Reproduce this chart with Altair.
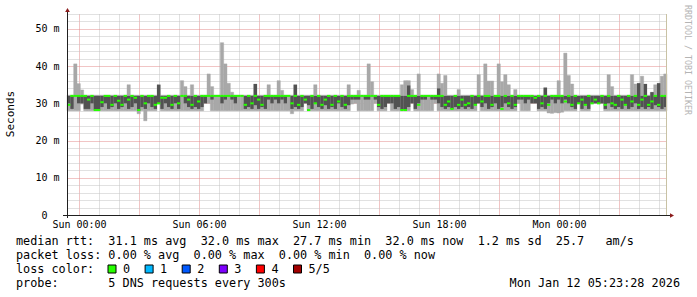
import altair as alt
import pandas as pd

MONO = "DejaVu Sans Mono"

# ---- data (10-minute steps, 180 steps = 30 hours) ----
hi = [
    32.2, 32.2, 40.6, 35.3, 33.6, 32.2, 32.2, 32.2, 32.2, 32.2, 32.2, 32.2, 32.2, 32.2, 32.2, 32.2, 32.2, 32.2, 35.0, 32.2,
    32.2, 32.2, 32.2, 32.2, 32.2, 32.2, 32.2, 35.0, 32.2, 32.2, 32.2, 32.2, 32.2, 32.2, 36.1, 34.5, 32.2, 35.0, 32.2, 32.2,
    32.2, 32.2, 37.9, 34.5, 32.2, 32.2, 46.3, 40.6, 35.4, 33.0, 32.2, 32.2, 32.2, 32.2, 32.2, 32.2, 35.2, 32.2, 32.2, 32.2,
    35.0, 32.2, 32.2, 36.1, 33.5, 32.2, 32.2, 32.2, 35.0, 32.2, 32.2, 32.2, 32.2, 32.2, 35.0, 32.2, 32.2, 32.2, 32.2, 32.2,
    32.2, 32.2, 32.2, 32.2, 35.0, 32.2, 32.2, 33.5, 32.2, 32.2, 40.6, 35.8, 32.2, 32.2, 32.2, 32.2, 32.2, 32.2, 32.2, 32.2,
    35.0, 36.1, 36.1, 33.7, 32.2, 37.9, 32.2, 32.2, 32.2, 32.2, 32.2, 37.9, 35.4, 37.5, 32.2, 32.2, 32.2, 33.7, 32.2, 32.2,
    32.2, 32.2, 32.2, 37.7, 32.2, 40.6, 36.0, 36.0, 32.2, 40.6, 35.8, 37.7, 35.0, 32.2, 33.7, 32.2, 32.2, 32.2, 32.2, 32.2,
    32.2, 32.2, 32.2, 34.2, 32.2, 32.2, 32.2, 36.1, 32.2, 43.5, 37.5, 35.2, 32.2, 32.2, 32.2, 32.2, 32.2, 32.2, 32.2, 32.2,
    32.2, 32.2, 37.7, 34.5, 32.2, 32.2, 32.2, 32.2, 32.2, 37.7, 35.2, 35.4, 37.3, 35.2, 32.2, 33.0, 35.0, 35.4, 37.3, 37.9,
]
lo = [
    28.0, 28.0, 28.0, 28.0, 29.8, 28.0, 28.0, 28.0, 28.0, 28.0, 28.0, 28.0, 28.0, 28.0, 28.0, 28.0, 28.0, 28.0, 28.0, 28.0,
    28.0, 27.2, 28.0, 25.3, 28.0, 28.0, 28.0, 29.8, 28.0, 28.0, 28.0, 28.0, 28.0, 28.0, 28.0, 28.0, 28.0, 28.0, 28.0, 28.0,
    28.0, 30.0, 30.0, 28.0, 28.0, 28.0, 28.0, 28.0, 28.0, 28.0, 28.0, 28.0, 28.0, 28.0, 28.0, 28.0, 28.0, 28.0, 28.0, 28.0,
    28.0, 28.0, 28.0, 28.0, 28.0, 28.0, 28.0, 27.2, 28.0, 28.0, 28.0, 30.0, 28.0, 28.0, 28.0, 28.0, 28.0, 28.0, 28.0, 28.0,
    28.0, 28.0, 28.0, 28.0, 28.0, 29.8, 30.0, 28.0, 28.0, 28.0, 28.0, 28.0, 30.0, 28.0, 28.0, 28.0, 30.0, 28.0, 28.0, 28.0,
    28.0, 28.0, 28.0, 30.0, 28.0, 28.0, 28.0, 28.0, 28.0, 28.0, 30.0, 28.0, 28.0, 28.0, 28.0, 28.0, 28.0, 28.0, 28.0, 28.0,
    28.0, 28.0, 28.0, 30.0, 28.0, 28.0, 28.0, 28.0, 28.0, 28.0, 28.0, 28.0, 28.0, 28.0, 28.0, 30.0, 28.0, 28.0, 28.0, 30.0,
    30.0, 28.0, 28.0, 28.0, 27.4, 27.3, 27.5, 27.4, 27.6, 28.0, 28.0, 28.0, 28.0, 30.0, 28.0, 28.0, 28.0, 30.0, 30.0, 30.0,
    30.0, 28.0, 28.0, 28.0, 28.0, 28.0, 28.0, 28.0, 28.0, 28.0, 28.0, 28.0, 28.0, 28.0, 28.0, 28.0, 28.0, 28.0, 28.0, 28.0,
]
dark_lo = [
    30, 28.5, 32, 30, 30, 28.5, 28.5, 30, 28.3, 28.3, 29, 30, 28.5, 29, 30, 28.5, 29, 30, 28.5, 29,
    30, 28, 29, 28.5, 30, 29, 28.5, 30, 28.5, 30, 29, 28.5, 30, 28.5, 32, 30, 29, 28.5, 29, 28.5,
    29, 30, 32, 31, 32, 32, 30, 31, 32, 31, 30, 32, 32, 28.5, 29, 28.5, 29.5, 28.5, 29, 28.5,
    31, 30, 31, 30, 31, 30, 32, 28.5, 29, 28.5, 29, 30, 29.5, 28.5, 30, 29, 28.5, 29.5, 28.5, 29,
    28.5, 30, 29, 28.5, 29.5, 31, 31, 31, 32, 31, 31, 32, 31, 29, 28.5, 29, 30, 30, 28.5, 29,
    28.3, 28.3, 29, 30, 28.5, 30, 31, 31, 32, 31, 31, 30, 29, 28.5, 29, 28.5, 29, 28.5, 29, 28.5,
    29, 28.5, 29.5, 30, 29, 30, 28.5, 29, 30, 28.5, 29, 30, 29, 28.5, 29, 31, 31, 30, 31, 30,
    30, 28.5, 29, 28.5, 30, 31, 30, 31, 30, 31, 30, 29, 28.5, 30, 28.5, 29.5, 28.5, 30, 30, 30,
    30, 28.5, 30, 29, 28.5, 29, 28.5, 29.5, 28.5, 29, 30, 28.5, 29, 28.5, 29, 28.5, 29.5, 29, 28.5, 29,
]
dark_hi = [
    32, 32, 32, 32, 32, 32, 32, 32, 32, 32, 32, 32, 32, 32, 32, 32, 32, 32, 32, 32,
    32, 32, 32, 32, 32, 32, 32, 35.0, 32, 32, 32, 32, 32, 32, 32, 32, 32, 32, 32, 32,
    32, 32, 32, 32, 32, 32, 32, 32, 32, 32, 32, 32, 32, 32, 32, 32, 35.2, 32, 32, 32,
    32, 32, 32, 32, 32, 32, 32, 32, 35.0, 32, 32, 32, 32, 32, 32, 32, 32, 32, 32, 32,
    32, 32, 32, 32, 32, 32, 32, 32, 32, 32, 32, 32, 32, 32, 32, 32, 32, 32, 32, 32,
    32, 32, 34.8, 32, 32, 32, 32, 32, 32, 32, 32, 34.0, 32, 32, 32, 32, 32, 32, 32, 32,
    32, 32, 32, 32, 32, 32, 32, 32, 32, 32, 32, 32, 32, 32, 32, 32, 32, 32, 32, 32,
    32, 32, 32, 34.2, 32, 32, 32, 32, 32, 32, 32, 32, 32, 32, 32, 32, 32, 32, 32, 32,
    32, 32, 32, 32, 32, 32, 32, 32, 32, 32, 32, 35.4, 32, 35.2, 32, 33.0, 32, 35.4, 32, 32,
]
median = [
    29.6, 32, 32, 32, 32, 32, 31, 32, 28.2, 28.2, 30.3, 32, 32, 29.6, 32, 30.7, 29.6, 32, 31, 32,
    31.5, 28.2, 32, 30, 32, 32, 29.6, 30, 31.5, 31.5, 32, 29.6, 32, 30, 32, 32, 31, 29.6, 32, 30.5,
    32, 32, 32, 32, 32, 32, 32, 32, 32, 32, 32, 32, 32, 29.6, 32, 30, 32, 31, 29.6, 32,
    32, 32, 32, 32, 32, 32, 32, 30, 32, 29.6, 32, 31, 28.2, 32, 30, 32, 29.6, 31, 32, 29.6,
    32, 30.5, 32, 29.6, 32, 32, 32, 32, 32, 32, 32, 32, 32, 29.6, 32, 32, 32, 32, 32, 32,
    28.2, 28.2, 32, 32, 32, 29.6, 32, 32, 32, 32, 32, 32, 32, 29.6, 30.5, 28.5, 32, 29.6, 31, 29.6,
    30, 32, 29.6, 32, 30.5, 32, 32, 29.6, 32, 32, 28.5, 32, 30, 32, 29.6, 32, 32, 32, 32, 32,
    31.5, 32, 30, 32, 29.6, 32, 32, 32, 32, 30.5, 32, 29.6, 32, 30, 31, 29.6, 32, 30, 31, 30,
    32, 29.6, 32, 30, 29.6, 32, 31, 29.6, 32, 30.5, 32, 29.6, 31, 32, 29.6, 30.5, 32, 29.6, 32, 32,
]

loss_labels = ["0", "1", "2", "3", "4", "5/5"]
loss_colors = ["#26ff00", "#00b8ff", "#0059ff", "#7e00ff", "#ff0000", "#a10000"]

stats_line = "median rtt:  31.1 ms avg  32.0 ms max  27.7 ms min  32.0 ms now  1.2 ms sd  25.7   am/s"
loss_line = "packet loss: 0.00 % avg  0.00 % max  0.00 % min  0.00 % now"
color_line = "loss color:"
probe_line = "probe:       5 DNS requests every 300s"
stamp = "Mon Jan 12 05:23:28 2026"
watermark = "RRDTOOL / TOBI OETIKER"
y_title = "Seconds"

# ---- table ----
start = pd.Timestamp("2026-01-10 23:24:00", tz="UTC")
step = pd.Timedelta(minutes=10)
n = len(median)


def iso(ts):
    return ts.strftime("%Y-%m-%dT%H:%M:%SZ")


def ms(ts):
    return int(ts.timestamp() * 1000)


df = pd.DataFrame({
    "t": [iso(start + k * step) for k in range(n)],
    "t2": [iso(start + (k + 1) * step) for k in range(n)],
    "lo": lo, "hi": hi, "dlo": dark_lo, "dhi": dark_hi, "med": median,
})
end = start + n * step
first_hour = start.ceil("h")
hour_ticks = []
h = first_hour
while h <= end:
    hour_ticks.append(ms(h))
    h = h + pd.Timedelta(hours=1)

NB = "\u00a0"


def nb(s):
    return s.replace(" ", NB)


xs = alt.Scale(type="utc", domain=[ms(start), ms(end)], nice=False)
ys = alt.Scale(domain=[0, 54], nice=False)

x_axis = alt.Axis(
    values=hour_ticks, title=None, domain=False, ticks=False,
    grid=True, gridDash=[1, 1], gridWidth=1,
    gridColor=alt.condition("utchours(datum.value) % 3 === 0", alt.value("#e28a8a"), alt.value("#c2c2c2")),
    labelExpr="utchours(datum.value) % 6 === 0 ? utcFormat(datum.value, '%a %H:%M') : ''",
    labelFont=MONO, labelFontSize=10, labelColor="#000000", labelPadding=12,
    labelBaseline="alphabetic", labelOverlap=False, labelFlush=False,
)
y_axis = alt.Axis(
    values=list(range(0, 55, 2)), title=None, domain=False, ticks=False,
    grid=True, gridDash=[1, 1], gridWidth=1,
    gridColor=alt.condition("datum.value % 10 === 0", alt.value("#e28a8a"), alt.value("#c2c2c2")),
    labelExpr="datum.value % 10 === 0 ? (datum.value === 0 ? '0' : datum.value + ' m') : ''",
    labelFont=MONO, labelFontSize=10, labelColor="#000000",
    labelPadding=alt.condition("datum.value === 0", alt.value(20), alt.value(8)),
    labelBaseline="middle", labelOverlap=False, labelFlush=False,
)

base = alt.Chart(df)
X = alt.X("t:T", scale=xs, axis=x_axis)

light = base.mark_rect(color="#a8a8a8", stroke="#a8a8a8", strokeWidth=0.4).encode(
    x=X, x2="t2:T", y=alt.Y("lo:Q", scale=ys, axis=y_axis), y2="hi:Q")
dark = base.transform_filter("datum.dhi > datum.dlo").mark_rect(color="#525252").encode(
    x=X, x2="t2:T", y=alt.Y("dlo:Q", scale=ys, axis=y_axis), y2="dhi:Q")
med = base.mark_rule(color="#26ff00", strokeWidth=2).encode(
    x=X, x2="t2:T", y=alt.Y("med:Q", scale=ys, axis=y_axis))

one = pd.DataFrame({"k": [0]})


def txt(s, x, y, align="left", size=11.8, color="#000000", angle=0, baseline="alphabetic"):
    return alt.Chart(one).mark_text(
        text=nb(s), align=align, baseline=baseline, font=MONO, fontSize=size,
        color=color, angle=angle).encode(x=alt.value(x), y=alt.value(y))


deco = [
    alt.Chart(one).mark_rule(color="#c9c2a4", strokeWidth=1).encode(
        x=alt.value(599.5), y=alt.value(0), y2=alt.value(201)),
    alt.Chart(one).mark_rule(color="#202020", strokeWidth=1).encode(
        x=alt.value(-4), x2=alt.value(604), y=alt.value(201.5)),
    alt.Chart(one).mark_rule(color="#202020", strokeWidth=1).encode(
        x=alt.value(0.5), y=alt.value(-3), y2=alt.value(204)),
    alt.Chart(one).mark_point(shape="triangle-up", filled=True, size=22, color="#8b1c1c", opacity=1).encode(
        x=alt.value(0.5), y=alt.value(-4)),
    alt.Chart(one).mark_point(shape="triangle-right", filled=True, size=22, color="#8b1c1c", opacity=1).encode(
        x=alt.value(605), y=alt.value(201.5)),
]

texts = [
    txt(y_title, -56, 100, align="center", size=11, angle=270, baseline="middle"),
    txt(watermark, 620, -9, align="left", size=8.3, color="#b4b4b4", angle=90, baseline="middle"),
    txt(stats_line, -51, 231),
    txt(loss_line, -51, 245),
    txt(color_line, -51, 259),
    txt(probe_line, -51, 272.7),
    txt(stamp, 613, 272.7, align="right"),
]
for k, (lab, col) in enumerate(zip(loss_labels, loss_colors)):
    bx = 41 + k * 37.1
    texts.append(alt.Chart(one).mark_rect(fill=col, stroke="#000000", strokeWidth=1).encode(
        x=alt.value(bx), x2=alt.value(bx + 8), y=alt.value(251), y2=alt.value(259)))
    texts.append(txt(lab, bx + 15, 259))

chart = alt.layer(light, dark, med, *deco, *texts).properties(
    width=600, height=201,
    autosize=alt.AutoSizeParams(type="none"),
    padding={"left": 67, "top": 14, "right": 30, "bottom": 82},
    background="#ffffff",
).configure_view(stroke=None)

chart.save("out.html", embed_options={"renderer": "svg", "actions": False})
